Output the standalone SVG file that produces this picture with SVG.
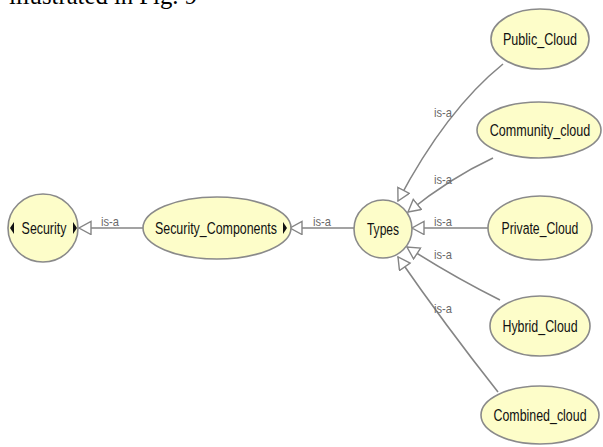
<svg xmlns="http://www.w3.org/2000/svg" width="603" height="447" viewBox="0 0 603 447">
<style>
.node{fill:#fdfdc9;stroke:#8a8a8a;stroke-width:1.6}
.lbl{font-family:"Liberation Sans",Arial,sans-serif;font-size:17px;fill:#111;text-anchor:middle}
.edge{fill:none;stroke:#858585;stroke-width:1.6}
.isa{font-family:"Liberation Sans",Arial,sans-serif;font-size:13px;fill:#6a6a6a;text-anchor:middle}
.exp{fill:#111}
.cap{font-family:"Liberation Serif","Times New Roman",serif;font-size:25px;fill:#000}
</style>
<defs>
<marker id="tri" markerUnits="userSpaceOnUse" markerWidth="16" markerHeight="16" refX="13" refY="7" orient="auto">
<path d="M1,0.5 L13,7 L1,13.5 Z" fill="#fff" stroke="#858585" stroke-width="1.4"/>
</marker>
</defs>
<text class="cap" x="9" y="4" textLength="188" lengthAdjust="spacingAndGlyphs">illustrated in Fig. 9</text>
<g id="connectors">
<path class="edge" d="M144,228 L79,228" marker-end="url(#tri)"/>
<path class="edge" d="M354,228 L290,228" marker-end="url(#tri)"/>
<path class="edge" d="M503,64 Q446,110 398,201" marker-end="url(#tri)"/>
<path class="edge" d="M493,158 Q450,178 408,212" marker-end="url(#tri)"/>
<path class="edge" d="M489,228 L412,228" marker-end="url(#tri)"/>
<path class="edge" d="M500,300 Q452,276 407,247" marker-end="url(#tri)"/>
<path class="edge" d="M498,392 Q445,325 398,257" marker-end="url(#tri)"/>
<text class="isa" transform="translate(110,226) scale(0.86,1)">is-a</text>
<text class="isa" transform="translate(322,226) scale(0.86,1)">is-a</text>
<text class="isa" transform="translate(443,117) scale(0.86,1)">is-a</text>
<text class="isa" transform="translate(443,184) scale(0.86,1)">is-a</text>
<text class="isa" transform="translate(443,226) scale(0.86,1)">is-a</text>
<text class="isa" transform="translate(443,259) scale(0.86,1)">is-a</text>
<text class="isa" transform="translate(443,313) scale(0.86,1)">is-a</text>
</g>
<g id="Security">
<ellipse class="node" cx="43" cy="228" rx="35" ry="34"/>
<path class="exp" d="M14,222 L10,228 L14,234 Z"/>
<path class="exp" d="M73,222 L77,228 L73,234 Z"/>
<text class="lbl" transform="translate(44,234) scale(0.73,1)">Security</text>
</g>
<g id="Security_Components">
<ellipse class="node" cx="217" cy="228" rx="74" ry="31"/>
<path class="exp" d="M283,222 L287,228 L283,234 Z"/>
<text class="lbl" transform="translate(216,234) scale(0.73,1)">Security_Components</text>
</g>
<g id="Types">
<circle class="node" cx="383" cy="229" r="29"/>
<text class="lbl" transform="translate(383,235) scale(0.71,1)">Types</text>
</g>
<g id="Public_Cloud">
<ellipse class="node" cx="540" cy="39" rx="49" ry="30"/>
<text class="lbl" transform="translate(540,45) scale(0.74,1)">Public_Cloud</text>
</g>
<g id="Community_cloud">
<ellipse class="node" cx="539" cy="130" rx="62" ry="28"/>
<text class="lbl" transform="translate(540,136) scale(0.74,1)">Community_cloud</text>
</g>
<g id="Private_Cloud">
<ellipse class="node" cx="540" cy="228" rx="52" ry="32"/>
<text class="lbl" transform="translate(540,234) scale(0.72,1)">Private_Cloud</text>
</g>
<g id="Hybrid_Cloud">
<ellipse class="node" cx="540" cy="326" rx="50" ry="30"/>
<text class="lbl" transform="translate(540,332) scale(0.73,1)">Hybrid_Cloud</text>
</g>
<g id="Combined_cloud">
<ellipse class="node" cx="540" cy="415" rx="59" ry="29"/>
<text class="lbl" transform="translate(540,421) scale(0.73,1)">Combined_cloud</text>
</g>
</svg>
